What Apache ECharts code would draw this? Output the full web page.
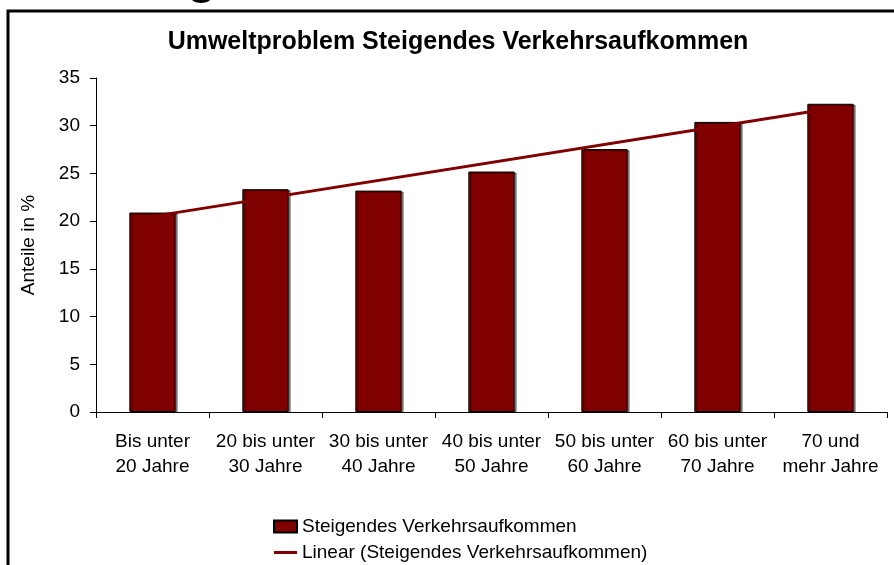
<!DOCTYPE html>
<html>
<head>
<meta charset="utf-8">
<script src="https://cdn.jsdelivr.net/npm/echarts@6/dist/echarts.min.js"></script>
<style>
  html, body { margin: 0; padding: 0; background: #fff; }
  #chart { width: 894px; height: 565px; }
</style>
</head>
<body>
<div id="chart"></div>
<script>
// Altersgruppen (x-Achse)
const categories = [
  'Bis unter\n20 Jahre',
  '20 bis unter\n30 Jahre',
  '30 bis unter\n40 Jahre',
  '40 bis unter\n50 Jahre',
  '50 bis unter\n60 Jahre',
  '60 bis unter\n70 Jahre',
  '70 und\nmehr Jahre'
]
// Anteile in %
const values = [20.9, 23.35, 23.2, 25.2, 27.55, 30.4, 32.3]
// Trendlinie: Anfangs- und Endwert
const trendEnds = [20.5, 31.8]

const seriesName = 'Steigendes Verkehrsaufkommen'
const trendName = 'Linear (Steigendes Verkehrsaufkommen)'
const red = '#800000'
const font = '"Liberation Sans", Arial, sans-serif'

const chart = echarts.init(document.getElementById('chart'), null, { renderer: 'canvas' })

const option = {
  backgroundColor: '#ffffff',
  animation: false,
  textStyle: { fontFamily: font, color: '#000' },
  title: {
    text: 'Umweltproblem Steigendes Verkehrsaufkommen',
    left: 453,
    top: 25,
    textAlign: 'center',
    textStyle: { fontFamily: font, fontSize: 25, fontWeight: 'bold', color: '#000' }
  },
  graphic: [
    {
      // Rahmen
      type: 'rect',
      shape: { x: 8, y: 11, width: 900, height: 600 },
      style: { fill: 'none', stroke: '#000', lineWidth: 3 },
      silent: true
    },
    {
      // angeschnittene Überschrift oben
      type: 'text',
      x: 187,
      y: -20,
      style: {
        text: 'g',
        font: 'bold 48px "Liberation Sans", Arial, sans-serif',
        fill: '#000',
        verticalAlign: 'middle'
      },
      silent: true
    }
  ],
  grid: { left: 96, right: 7, top: 78, bottom: 153, containLabel: false },
  xAxis: {
    type: 'category',
    data: categories,
    boundaryGap: true,
    axisLine: { lineStyle: { color: '#000', width: 1 } },
    axisTick: { show: true, length: 6, lineStyle: { color: '#000' } },
    axisLabel: {
      color: '#000', fontSize: 19, fontFamily: font,
      lineHeight: 25, margin: 17, interval: 0
    }
  },
  yAxis: {
    type: 'value',
    min: 0, max: 35, interval: 5,
    name: 'Anteile in %',
    nameLocation: 'middle',
    nameGap: 58,
    nameRotate: 90,
    nameTextStyle: { fontFamily: font, fontSize: 19, color: '#000' },
    splitLine: { show: false },
    axisLine: { show: true, lineStyle: { color: '#000', width: 1 } },
    axisTick: { show: true, length: 6, lineStyle: { color: '#000' } },
    axisLabel: { color: '#000', fontSize: 19, fontFamily: font, margin: 16 }
  },
  legend: {
    orient: 'vertical',
    left: 273,
    top: 517,
    padding: 0,
    itemWidth: 23,
    itemHeight: 12,
    itemGap: 7,
    textStyle: { fontFamily: font, fontSize: 19, color: '#000' },
    data: [
      { name: seriesName, icon: 'rect' },
      { name: trendName, icon: 'path://M0,0 L23,0 L23,3 L0,3 Z' }
    ]
  },
  series: [
    {
      name: seriesName,
      type: 'bar',
      data: values,
      barWidth: '41%',
      itemStyle: {
        color: red,
        borderColor: '#000',
        borderWidth: 1,
        shadowColor: 'rgba(0,0,0,0.45)',
        shadowOffsetX: 2,
        shadowOffsetY: 1,
        shadowBlur: 0
      }
    },
    {
      name: trendName,
      type: 'line',
      data: [[0, trendEnds[0]], [categories.length - 1, trendEnds[1]]],
      symbol: 'none',
      lineStyle: { color: red, width: 3 },
      itemStyle: { color: red },
      z: 5
    }
  ]
}

chart.setOption(option)
</script>
</body>
</html>
